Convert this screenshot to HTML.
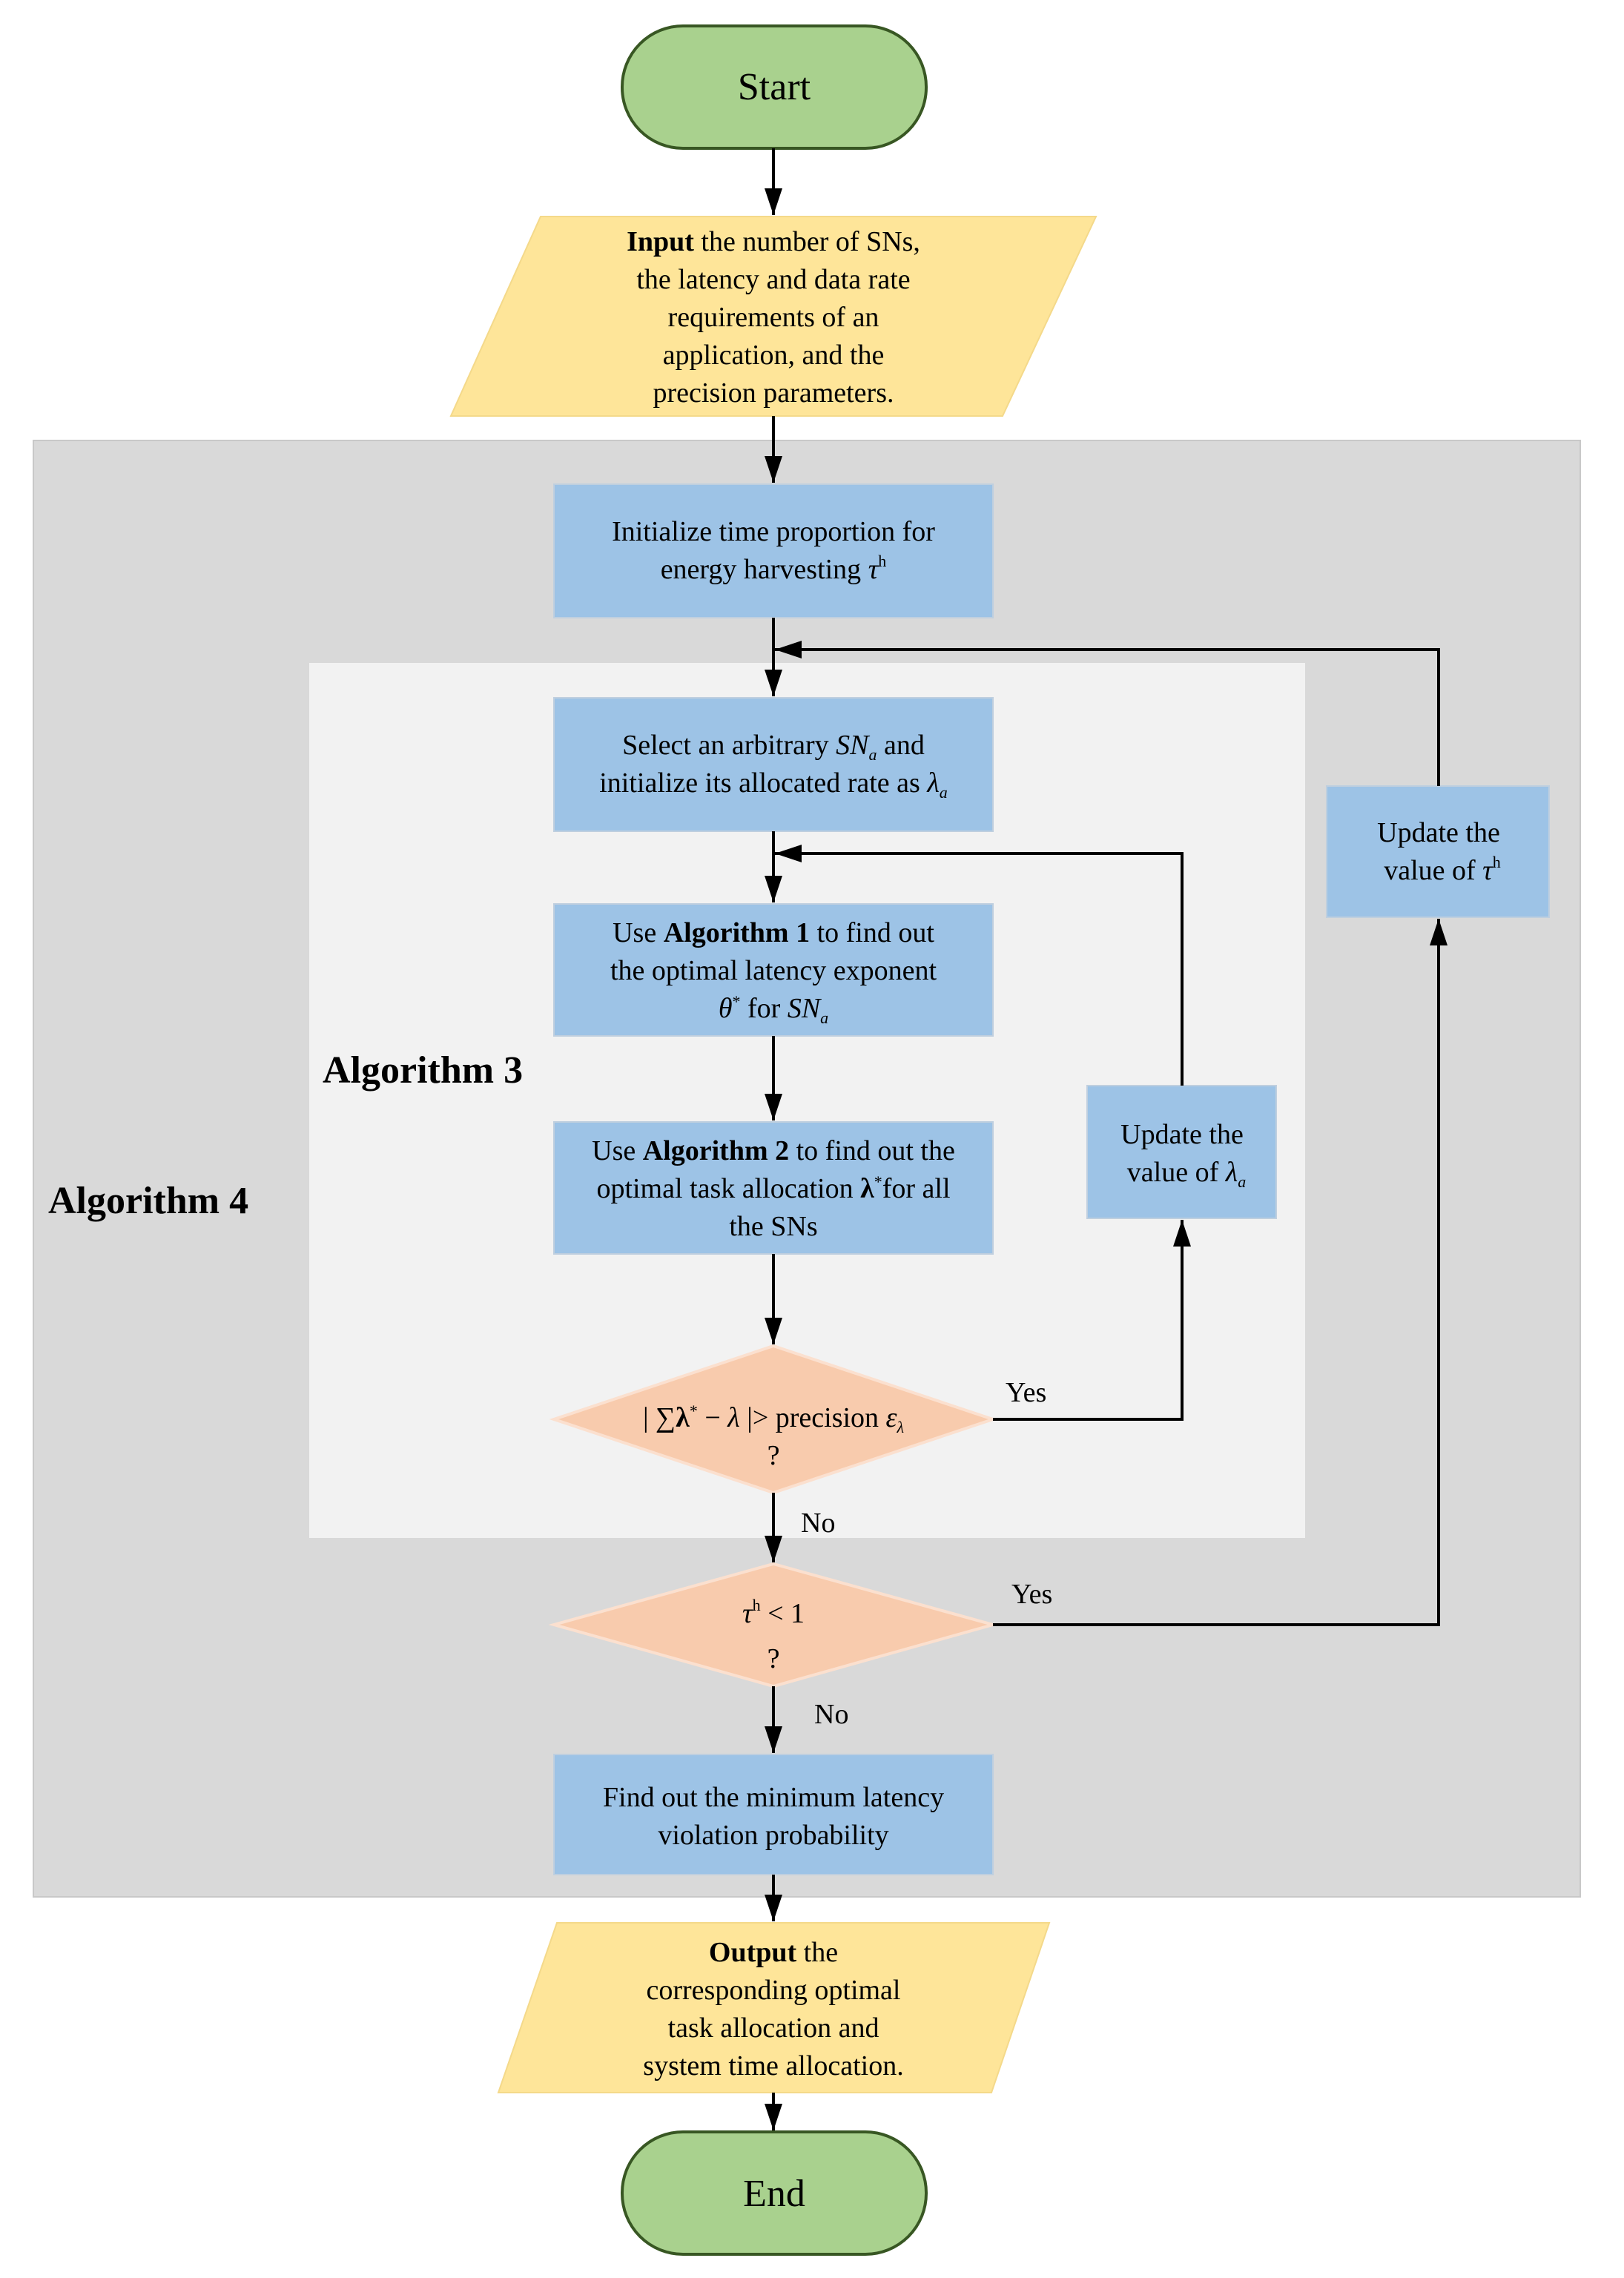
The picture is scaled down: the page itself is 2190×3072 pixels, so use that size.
<!DOCTYPE html>
<html><head><meta charset="utf-8"><style>html,body{margin:0;padding:0;background:#fff}svg{display:block}</style></head>
<body>
<svg width="2190" height="3072" viewBox="0 0 2190 3072" xmlns="http://www.w3.org/2000/svg" font-family="'Liberation Serif', serif" font-size="38" text-anchor="middle">
<defs>
<marker id="ad" markerWidth="36" markerHeight="24" refX="36" refY="12" orient="auto" markerUnits="userSpaceOnUse" viewBox="0 0 36 24">
<path d="M0,0 L36,12 L0,24 Z" fill="#000"/>
</marker>
</defs>
<rect x="45" y="594" width="2086" height="1964" fill="#d9d9d9" stroke="#c8c8c8" stroke-width="2"/>
<rect x="417" y="894" width="1343" height="1180" fill="#f2f2f2"/>
<rect x="839" y="35" width="410" height="165" rx="82" fill="#a9d18e" stroke="#385723" stroke-width="4"/>
<text x="1044" y="134" font-size="52">Start</text>
<polygon points="729,292 1478,292 1352,561 608,561" fill="#fee599" stroke="#f4d98a" stroke-width="2"/>
<text x="1043" y="338"><tspan font-weight="bold">Input</tspan> the number of SNs,</text>
<text x="1043" y="389">the latency and data rate</text>
<text x="1043" y="440">requirements of an</text>
<text x="1043" y="491">application, and the</text>
<text x="1043" y="542">precision parameters.</text>
<rect x="747" y="653" width="592" height="180" fill="#9dc3e6" stroke="#bfcfdf" stroke-width="2"/>
<text x="1043" y="729">Initialize time proportion for</text>
<text x="1043" y="780">energy harvesting <tspan font-style="italic">τ</tspan><tspan font-size="22" dy="-16">h</tspan></text>
<rect x="747" y="941" width="592" height="180" fill="#9dc3e6" stroke="#bfcfdf" stroke-width="2"/>
<text x="1043" y="1017">Select an arbitrary <tspan font-style="italic">SN</tspan><tspan font-style="italic" font-size="22" dy="8">a</tspan><tspan dy="-8"> and</tspan></text>
<text x="1043" y="1068">initialize its allocated rate as <tspan font-style="italic">λ</tspan><tspan font-style="italic" font-size="22" dy="8">a</tspan></text>
<rect x="747" y="1219" width="592" height="178" fill="#9dc3e6" stroke="#bfcfdf" stroke-width="2"/>
<text x="1043" y="1270">Use <tspan font-weight="bold">Algorithm 1</tspan> to find out</text>
<text x="1043" y="1321">the optimal  latency exponent</text>
<text x="1043" y="1372"><tspan font-style="italic">θ</tspan><tspan font-size="22" dy="-14">*</tspan><tspan dy="14">  for  </tspan><tspan font-style="italic">SN</tspan><tspan font-style="italic" font-size="22" dy="8">a</tspan></text>
<rect x="747" y="1513" width="592" height="178" fill="#9dc3e6" stroke="#bfcfdf" stroke-width="2"/>
<text x="1043" y="1564">Use <tspan font-weight="bold">Algorithm 2</tspan> to find out the</text>
<text x="1043" y="1615">optimal task allocation <tspan font-weight="bold">λ</tspan><tspan font-size="22" dy="-14">*</tspan><tspan dy="14">for all</tspan></text>
<text x="1043" y="1666">the SNs</text>
<rect x="1466" y="1464" width="255" height="179" fill="#9dc3e6" stroke="#bfcfdf" stroke-width="2"/>
<text x="1594" y="1542">Update the</text>
<text x="1600" y="1593">value of <tspan font-style="italic">λ</tspan><tspan font-style="italic" font-size="22" dy="8">a</tspan></text>
<rect x="1789" y="1060" width="300" height="177" fill="#9dc3e6" stroke="#bfcfdf" stroke-width="2"/>
<text x="1940" y="1135">Update the</text>
<text x="1945" y="1186">value of <tspan font-style="italic">τ</tspan><tspan font-size="22" dy="-16">h</tspan></text>
<polygon points="1043,1815 1339,1914 1043,2013 747,1914" fill="#f8cbad" stroke="#fbe0cf" stroke-width="4"/>
<text x="1043" y="1924">| ∑<tspan font-weight="bold">λ</tspan><tspan font-size="22" dy="-14">*</tspan><tspan dy="14"> − </tspan><tspan font-style="italic">λ</tspan> |&gt; precision <tspan font-style="italic">ε</tspan><tspan font-style="italic" font-size="22" dy="8">λ</tspan></text>
<text x="1043" y="1975">?</text>
<polygon points="1043,2109 1339,2191 1043,2274 747,2191" fill="#f8cbad" stroke="#fbe0cf" stroke-width="4"/>
<text x="1043" y="2188"><tspan font-style="italic">τ</tspan><tspan font-size="22" dy="-16">h</tspan><tspan dy="16"> &lt; 1</tspan></text>
<text x="1043" y="2249">?</text>
<rect x="747" y="2366" width="592" height="162" fill="#9dc3e6" stroke="#bfcfdf" stroke-width="2"/>
<text x="1043" y="2436">Find out the minimum  latency</text>
<text x="1043" y="2487">violation probability</text>
<polygon points="751,2593 1415,2593 1337,2822 672,2822" fill="#fee599" stroke="#f4d98a" stroke-width="2"/>
<text x="1043" y="2645"><tspan font-weight="bold">Output</tspan> the</text>
<text x="1043" y="2696">corresponding optimal</text>
<text x="1043" y="2747">task allocation and</text>
<text x="1043" y="2798">system time allocation.</text>
<rect x="839" y="2875" width="410" height="165" rx="82" fill="#a9d18e" stroke="#385723" stroke-width="4"/>
<text x="1044" y="2975" font-size="52">End</text>
<text x="435" y="1460" font-size="52" font-weight="bold" text-anchor="start">Algorithm 3</text>
<text x="65" y="1636" font-size="52" font-weight="bold" text-anchor="start">Algorithm 4</text>
<text x="1356" y="1890" text-anchor="start">Yes</text>
<text x="1364" y="2162" text-anchor="start">Yes</text>
<text x="1080" y="2066" text-anchor="start">No</text>
<text x="1098" y="2324" text-anchor="start">No</text>
<g stroke="#000" stroke-width="4" fill="none">
<line x1="1043" y1="200" x2="1043" y2="290" marker-end="url(#ad)"/>
<line x1="1043" y1="561" x2="1043" y2="651" marker-end="url(#ad)"/>
<line x1="1043" y1="833" x2="1043" y2="939" marker-end="url(#ad)"/>
<line x1="1043" y1="1121" x2="1043" y2="1217" marker-end="url(#ad)"/>
<line x1="1043" y1="1397" x2="1043" y2="1511" marker-end="url(#ad)"/>
<line x1="1043" y1="1691" x2="1043" y2="1813" marker-end="url(#ad)"/>
<line x1="1043" y1="2013" x2="1043" y2="2107" marker-end="url(#ad)"/>
<line x1="1043" y1="2274" x2="1043" y2="2364" marker-end="url(#ad)"/>
<line x1="1043" y1="2528" x2="1043" y2="2591" marker-end="url(#ad)"/>
<line x1="1043" y1="2822" x2="1043" y2="2873" marker-end="url(#ad)"/>
<polyline points="1339,1914 1594,1914 1594,1645" marker-end="url(#ad)"/>
<polyline points="1594,1464 1594,1151 1045,1151" marker-end="url(#ad)"/>
<polyline points="1339,2191 1940,2191 1940,1239" marker-end="url(#ad)"/>
<polyline points="1940,1060 1940,876 1045,876" marker-end="url(#ad)"/>
</g>
</svg>
</body></html>
